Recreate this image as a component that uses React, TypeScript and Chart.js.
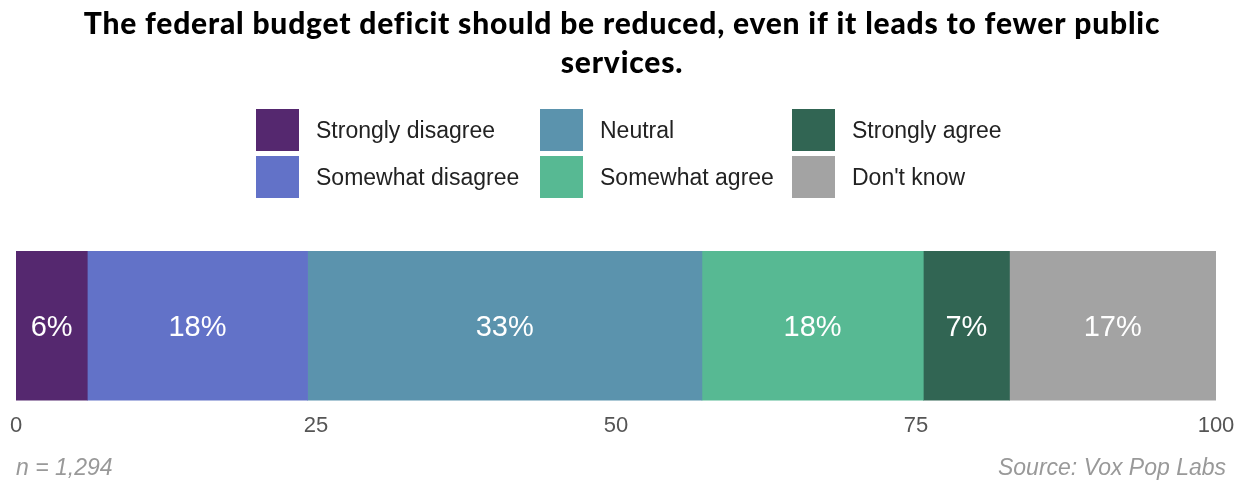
import React, { useEffect, useRef } from "react";
import { Chart, registerables } from "chart.js";

Chart.register(...registerables);

const titleLines = [
  "The federal budget deficit should be reduced, even if it leads to fewer public",
  "services.",
];
const categories = ["Response"];
const seriesNames = [
  "Strongly disagree",
  "Somewhat disagree",
  "Neutral",
  "Somewhat agree",
  "Strongly agree",
  "Don't know",
];
const seriesValues = [5.94, 18.36, 32.86, 18.45, 7.18, 17.21];
const seriesColors = ["#55286f", "#6272c8", "#5b93ad", "#57b993", "#316553", "#a3a3a3"];
const tickValues = [0, 25, 50, 75, 100];
const footLeft = "n = 1,294";
const footRight = "Source: Vox Pop Labs";

const SANS = "'Liberation Sans', Arial, sans-serif";
const TITLE_FONT = "900 30px Lato, sans-serif";

const decorPlugin = {
  id: "decor",
  afterDraw(chart: any) {
    const ctx = chart.ctx as CanvasRenderingContext2D;
    ctx.save();
    // Title
    ctx.fillStyle = "#000";
    ctx.font = TITLE_FONT;
    (ctx as any).letterSpacing = "0.8px";
    ctx.textAlign = "center";
    ctx.textBaseline = "alphabetic";
    ctx.fillText(titleLines[0], 622, 34);
    ctx.fillText(titleLines[1], 622, 73);
    (ctx as any).letterSpacing = "0px";

    // Legend: 3 columns, 2 rows, column-major
    const colX = [256, 540, 792];
    const rowY = [109, 156];
    const sw = 43, sh = 42;
    ctx.font = `23px ${SANS}`;
    ctx.textAlign = "left";
    ctx.textBaseline = "middle";
    chart.data.datasets.forEach((ds: any, i: number) => {
      const c = Math.floor(i / 2);
      const r = i % 2;
      ctx.fillStyle = ds.backgroundColor;
      ctx.fillRect(colX[c], rowY[r], sw, sh);
      ctx.fillStyle = "#222";
      ctx.fillText(ds.label, colX[c] + 60, rowY[r] + sh / 2 + 2);
    });

    // Value labels
    ctx.font = `29px ${SANS}`;
    ctx.textAlign = "center";
    ctx.fillStyle = "#fff";
    chart.data.datasets.forEach((ds: any, i: number) => {
      const meta = chart.getDatasetMeta(i);
      const el = meta.data[0];
      if (!el) return;
      const p = el.getProps(["x", "base", "y"], true);
      ctx.fillText(Math.round(ds.data[0]) + "%", (p.x + p.base) / 2, p.y + 2);
    });

    // Footer
    ctx.font = `italic 23px ${SANS}`;
    ctx.fillStyle = "#999";
    ctx.textAlign = "left";
    ctx.fillText(footLeft, 16, 469);
    ctx.textAlign = "right";
    ctx.fillText(footRight, 1226, 469);
    ctx.restore();
  },
};

export default function App() {
  const ref = useRef<HTMLCanvasElement>(null);
  useEffect(() => {
    document.body.style.margin = "0";
    let chart: any = null;
    let cancelled = false;
    const fontsReady = Promise.all([
      document.fonts.load(`20px ${SANS}`),
      document.fonts.load(`italic 20px ${SANS}`),
      document.fonts.load(TITLE_FONT),
    ]).catch(() => null);
    fontsReady.then(() => {
      if (cancelled || !ref.current) return;
      chart = new Chart(ref.current, {
        type: "bar",
        data: {
          labels: categories,
          datasets: seriesNames.map((name, i) => ({
            label: name,
            data: [seriesValues[i]],
            backgroundColor: seriesColors[i],
            borderWidth: 0,
            barPercentage: 1,
            categoryPercentage: 1,
          })),
        },
        options: {
          indexAxis: "y",
          animation: false,
          responsive: false,
          layout: { padding: { top: 251, left: 16, right: 23, bottom: 42 } },
          plugins: { legend: { display: false }, title: { display: false }, tooltip: { enabled: false } },
          scales: {
            x: {
              stacked: true,
              min: 0,
              max: 100,
              afterBuildTicks: (axis: any) => {
                axis.ticks = tickValues.map((v) => ({ value: v }));
              },
              grid: { display: false, drawTicks: true, tickLength: 12, tickColor: "rgba(0,0,0,0)" },
              border: { display: false },
              ticks: { color: "#555", font: { family: SANS, size: 22 }, padding: 0, maxRotation: 0 },
            },
            y: { stacked: true, display: false },
          },
        },
        plugins: [decorPlugin],
      } as any);
    });
    return () => {
      cancelled = true;
      if (chart) chart.destroy();
    };
  }, []);
  return (
    <div style={{ position: "absolute", left: 0, top: 0, width: 1239, height: 481 }}>
      <canvas ref={ref} width={1239} height={481} style={{ width: 1239, height: 481 }} />
    </div>
  );
}
